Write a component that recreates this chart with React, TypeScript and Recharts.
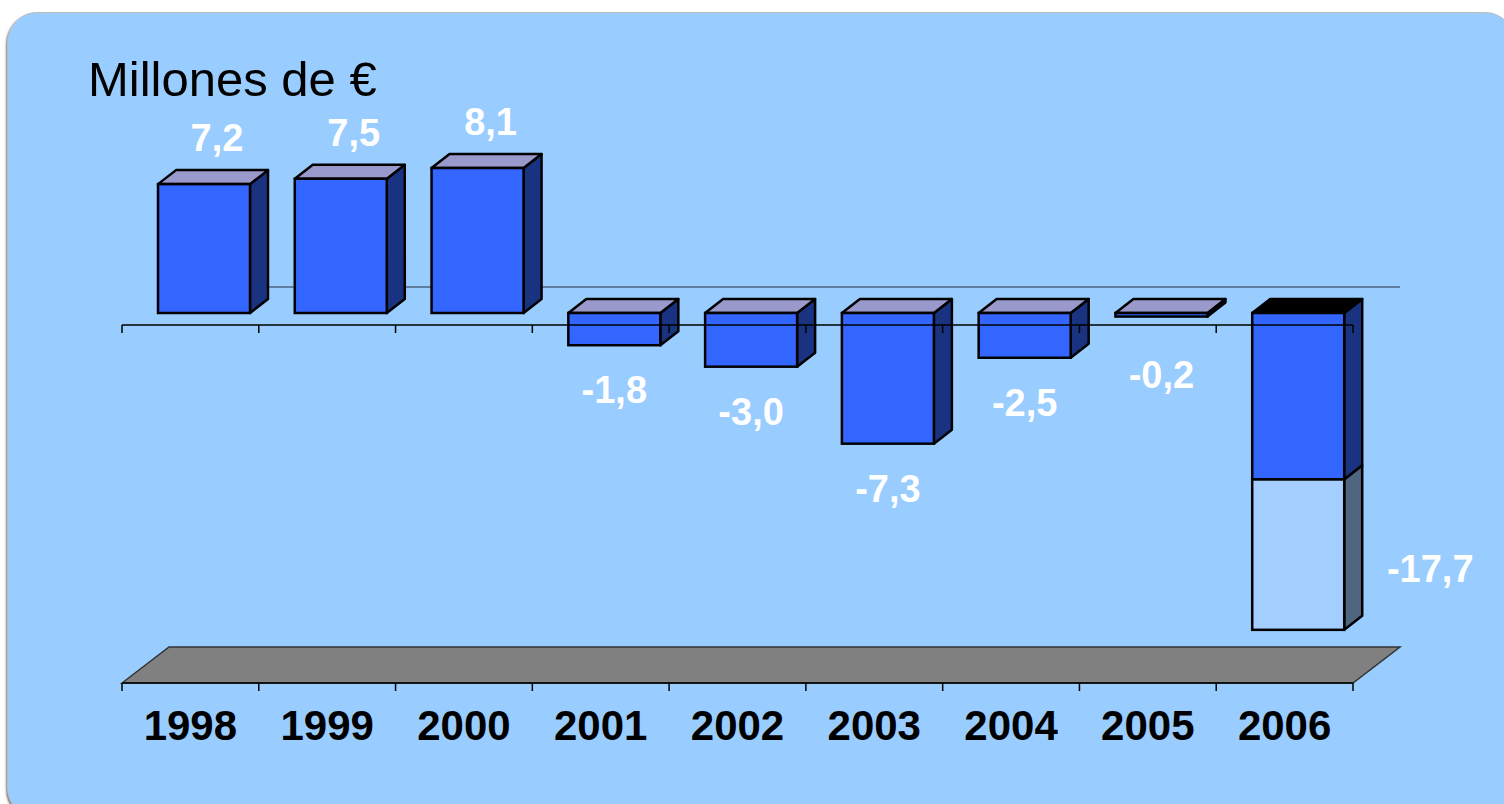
import { BarChart, Bar, XAxis, YAxis, ReferenceLine, LabelList } from "recharts"

// data (millions of euros)
const YEARS = ["1998", "1999", "2000", "2001", "2002", "2003", "2004", "2005", "2006"]
const MAIN = [7.2, 7.5, 8.1, -1.8, -3.0, -7.3, -2.5, -0.2, -9.3]
const EXTRA = [0, 0, 0, 0, 0, 0, 0, 0, -8.4]
const TOTALS = [7.2, 7.5, 8.1, -1.8, -3.0, -7.3, -2.5, -0.2, -17.7]
const DARK_TOP = ["2006"]

const data = YEARS.map((year, i) => ({
  year,
  main: MAIN[i],
  extra: EXTRA[i],
  total: TOTALS[i]
}))

const W = 1504
const H = 804
const MARGIN = { top: 146, right: 151, bottom: 51, left: 122 }
const AXIS_H = 70
const PLOT_W = W - MARGIN.left - MARGIN.right
const PLOT_H = H - MARGIN.top - MARGIN.bottom - AXIS_H
const DOMAIN: [number, number] = [-20, 10]
const ZERO_Y = MARGIN.top + PLOT_H * DOMAIN[1] / (DOMAIN[1] - DOMAIN[0])

// 3d offsets
const SHIFT_X = 14
const SHIFT_Y = -12
const BAR_DX = 18
const BAR_DY = -14
const FLOOR_DX = 47
const FLOOR_DY = -36

const FONT = "'Liberation Sans', Arial, Helvetica, sans-serif"
const FRONT = "#3366FF"
const SIDE = "#1A3380"
const TOP = "#9999CC"
const EXTRA_FRONT = "#A3CEFF"
const EXTRA_SIDE = "#4F6680"

const Box3D = (props: any) => {
  const { x, y, width, height, payload, kind } = props
  if (!height || !width) return null
  const top = Math.min(y, y + height)
  const h = Math.abs(height)
  const fx = x + SHIFT_X
  const fy = top + SHIFT_Y
  const isExtra = kind === "extra"
  const topFill = DARK_TOP.includes(payload?.year) ? "#000000" : TOP
  return (
    <g>
      <polygon
        points={`${fx + width},${fy} ${fx + width + BAR_DX},${fy + BAR_DY} ${fx + width + BAR_DX},${fy + h + BAR_DY} ${fx + width},${fy + h}`}
        fill={isExtra ? EXTRA_SIDE : SIDE}
        stroke="#000"
        strokeWidth={2.5}
        strokeLinejoin="round"
      />
      {!isExtra && (
        <polygon
          points={`${fx},${fy} ${fx + BAR_DX},${fy + BAR_DY} ${fx + width + BAR_DX},${fy + BAR_DY} ${fx + width},${fy}`}
          fill={topFill}
          stroke="#000"
          strokeWidth={2.5}
          strokeLinejoin="round"
        />
      )}
      <rect
        x={fx}
        y={fy}
        width={width}
        height={h}
        fill={isExtra ? EXTRA_FRONT : FRONT}
        stroke="#000"
        strokeWidth={2.5}
      />
    </g>
  )
}

const ValueLabel = (p: any) => {
  const vb = p.viewBox || p
  const { x, y, width } = vb
  const height = vb.height || 0
  const v = Number(p.value)
  const top = Math.min(y, y + height) + SHIFT_Y
  const bottom = Math.max(y, y + height) + SHIFT_Y
  const fx = x + SHIFT_X
  let tx = fx + width / 2
  let ty = 0
  if (Math.abs(height) > 0.5) {
    // stacked bar: label goes beside it
    tx = fx + width + 86
    ty = bottom - 48
  } else if (v >= 0) {
    tx = fx + width / 2 + 13
    ty = top - 33
  } else {
    ty = Math.max(bottom + 58, ZERO_Y + SHIFT_Y + 75)
  }
  const txt = v.toFixed(1).replace(".", ",")
  return (
    <text x={tx} y={ty} textAnchor="middle" fill="#FFFFFF" fontSize={38} fontWeight="bold" fontFamily={FONT}>
      {txt}
    </text>
  )
}

const YearTick = (p: any) => {
  const { x, y, payload, index } = p
  const band = PLOT_W / YEARS.length
  const axisY = y - 8
  return (
    <g>
      <line x1={x - band / 2} y1={axisY} x2={x - band / 2} y2={axisY + 8} stroke="#000" strokeWidth={1.5} />
      {index === YEARS.length - 1 && (
        <line x1={x + band / 2} y1={axisY} x2={x + band / 2} y2={axisY + 8} stroke="#000" strokeWidth={1.5} />
      )}
      <text x={x} y={axisY + 57} textAnchor="middle" fill="#000" fontSize={42} fontWeight="bold" fontFamily={FONT}>
        {payload.value}
      </text>
    </g>
  )
}

const Floor = (p: any) => {
  const { x1, y1, x2 } = p
  return (
    <polygon
      points={`${x1},${y1} ${x1 + FLOOR_DX},${y1 + FLOOR_DY} ${x2 + FLOOR_DX},${y1 + FLOOR_DY} ${x2},${y1}`}
      fill="#808080"
      stroke="#333333"
      strokeWidth={1.5}
    />
  )
}

const BackLine = (p: any) => {
  const { x1, y1, x2 } = p
  return (
    <line x1={x1 + FLOOR_DX} y1={y1 + FLOOR_DY - 2} x2={x2 + FLOOR_DX} y2={y1 + FLOOR_DY - 2} stroke="#4D6480" strokeWidth={1.5} />
  )
}

const FrontAxis = (p: any) => {
  const { x1, y1, x2 } = p
  const step = (x2 - x1) / YEARS.length
  return (
    <g>
      <line x1={x1} y1={y1} x2={x2} y2={y1} stroke="#000" strokeWidth={1.5} />
      {Array.from({ length: YEARS.length + 1 }, (_, i) => (
        <line key={i} x1={x1 + i * step} y1={y1} x2={x1 + i * step} y2={y1 + 8} stroke="#000" strokeWidth={1.5} />
      ))}
    </g>
  )
}

export default function App() {
  return (
    <div style={{ position: "fixed", left: 0, top: 0, width: W, height: H, overflow: "hidden", background: "#fff" }}>
      <div
        style={{
          position: "absolute",
          left: 7,
          top: 12,
          width: 1508,
          height: 806,
          borderRadius: 30,
          background: "#99CCFF",
          border: "1.5px solid #BDBDBD",
          boxShadow: "-1px 2px 2px rgba(0,0,0,0.5)",
          boxSizing: "border-box"
        }}
      />
      <div style={{ position: "absolute", left: 0, top: 0 }}>
        <BarChart width={W} height={H} data={data} margin={MARGIN} barSize={92}>
          <YAxis hide type="number" domain={DOMAIN} allowDataOverflow />
          <ReferenceLine y={-20} shape={Floor} zIndex={-10} />
          <ReferenceLine y={0} shape={BackLine} zIndex={-10} />
          <Bar dataKey="main" stackId="a" isAnimationActive={false} shape={(p: any) => <Box3D {...p} kind="main" />} />
          <Bar dataKey="extra" stackId="a" isAnimationActive={false} shape={(p: any) => <Box3D {...p} kind="extra" />}>
            <LabelList dataKey="total" content={ValueLabel} />
          </Bar>
          <ReferenceLine y={0} shape={FrontAxis} zIndex={1000} />
          <XAxis
            dataKey="year"
            height={AXIS_H}
            interval={0}
            tickSize={8}
            tickMargin={0}
            tickLine={false}
            axisLine={{ stroke: "#000", strokeWidth: 1.5 }}
            tick={YearTick}
          />
        </BarChart>
      </div>
      <svg width={W} height={H} style={{ position: "absolute", left: 0, top: 0, pointerEvents: "none" }}>
        <text x={88} y={96} fontSize={49} fontFamily={FONT} fill="#000">
          Millones de €
        </text>
      </svg>
    </div>
  )
}
